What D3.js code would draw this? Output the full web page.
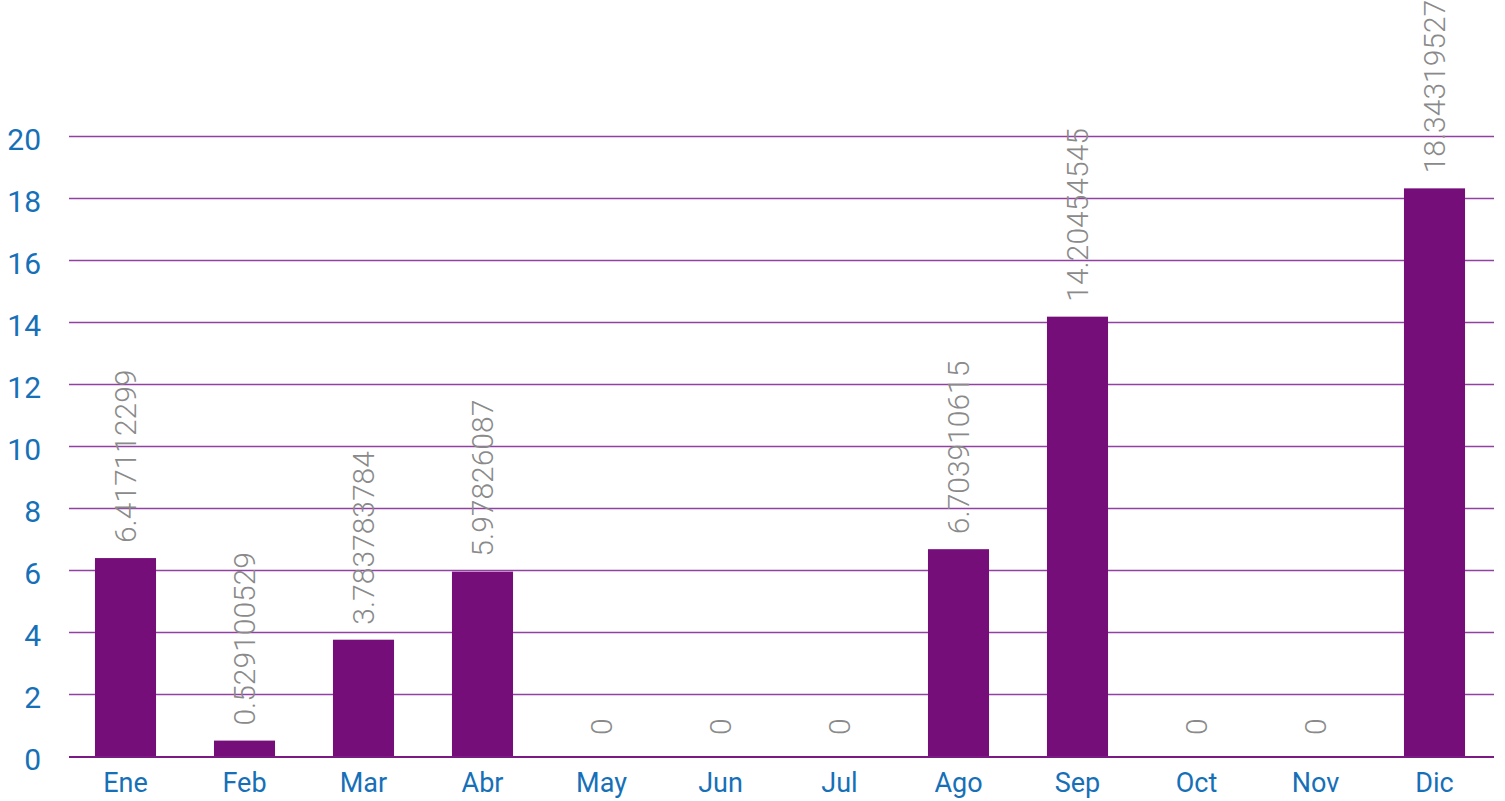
<!DOCTYPE html>
<html>
<head>
<meta charset="utf-8">
<script src="https://cdn.jsdelivr.net/npm/d3@7"></script>
<style>
  html, body { margin: 0; padding: 0; background: #fff; }
  svg { display: block; }
</style>
</head>
<body>
<svg id="chart" width="1505" height="801"></svg>
<script>
const months = ["Ene","Feb","Mar","Abr","May","Jun","Jul","Ago","Sep","Oct","Nov","Dic"];
const values = [6.417112299, 0.529100529, 3.783783784, 5.97826087, 0, 0, 0, 6.703910615, 14.20454545, 0, 0, 18.34319527];
const labels = ["6.417112299","0.529100529","3.783783784","5.97826087","0","0","0","6.703910615","14.20454545","0","0","18.34319527"];
const yTicks = [0,2,4,6,8,10,12,14,16,18,20];

(function () {
const svg = d3.select("#chart");
const gLeft = 69, gRight = 1494, mTop = 137, mBottom = 757;

const x = d3.scaleBand().domain(months).range([66, 1494]).paddingInner(0.487).paddingOuter(0.2435);
const y = d3.scaleLinear().domain([0, 20]).range([mBottom, mTop]);

// gridlines
svg.append("g").selectAll("line").data(yTicks.filter(d => d > 0)).join("line")
  .attr("x1", gLeft).attr("x2", gRight)
  .attr("y1", d => y(d) - 0.5).attr("y2", d => y(d) - 0.5)
  .attr("stroke", "#9340a3").attr("stroke-width", 1.4);

// y tick labels
svg.append("g").selectAll("text").data(yTicks).join("text")
  .attr("x", 41).attr("y", d => y(d) + 2)
  .attr("dy", "0.36em")
  .attr("text-anchor", "end")
  .attr("font-family", "Roboto, sans-serif")
  .attr("font-size", 30)
  .attr("fill", "#1670b8")
  .text(d => d);

// bars
svg.append("g").selectAll("rect").data(values).join("rect")
  .attr("x", (d, i) => x(months[i]))
  .attr("width", x.bandwidth())
  .attr("y", d => y(d))
  .attr("height", d => mBottom - y(d))
  .attr("fill", "#760e7a");

// baseline
svg.append("line")
  .attr("x1", gLeft).attr("x2", gRight)
  .attr("y1", y(0)).attr("y2", y(0))
  .attr("stroke", "#7b1a82").attr("stroke-width", 2.2);

// value labels
svg.append("g").selectAll("text").data(values).join("text")
  .attr("transform", (d, i) => `translate(${x(months[i]) + x.bandwidth() / 2},${y(d) - (d === 0 ? 22 : 15)}) rotate(-90)`)
  .attr("dy", "0.36em")
  .attr("text-anchor", "start")
  .attr("font-family", "Roboto, sans-serif")
  .attr("font-weight", 300)
  .attr("font-size", 30)
  .attr("fill", "#8a8a8a")
  .text((d, i) => labels[i]);

// month labels
svg.append("g").selectAll("text").data(months).join("text")
  .attr("x", d => x(d) + x.bandwidth() / 2)
  .attr("y", 792)
  .attr("text-anchor", "middle")
  .attr("font-family", "Roboto, sans-serif")
  .attr("font-size", 27)
  .attr("fill", "#1670b8")
  .text(d => d);
})();
</script>
</body>
</html>
